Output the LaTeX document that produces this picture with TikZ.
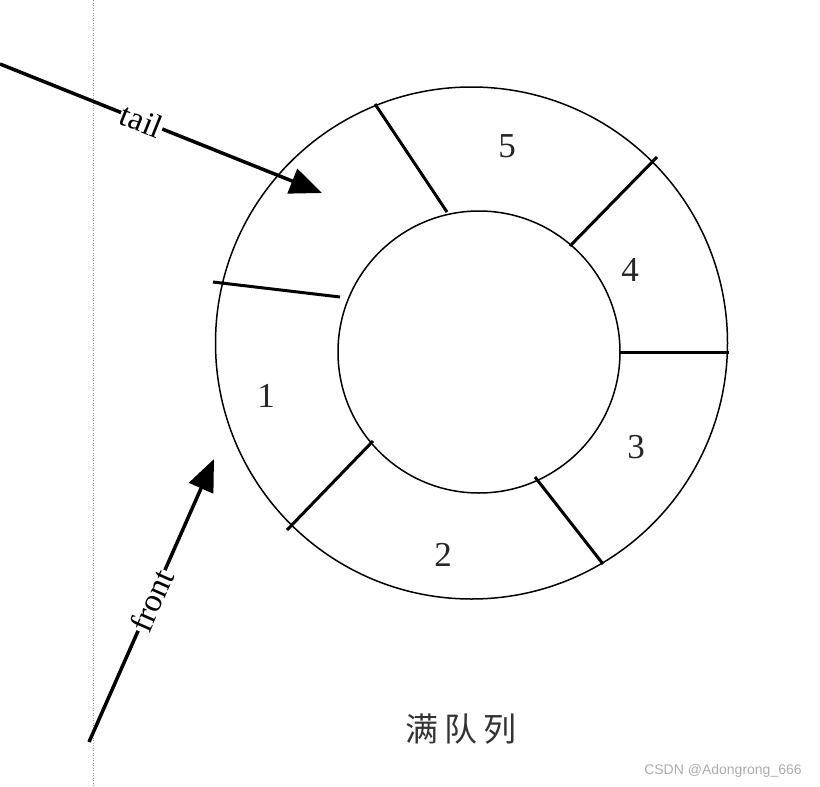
\documentclass[tikz,border=0pt]{standalone}
\usepackage{fontspec}
\setmainfont{Liberation Serif}
\newfontfamily\cjk{Noto Sans CJK SC}
\newfontfamily\wmfont{Liberation Sans}
\usetikzlibrary{arrows.meta}
\begin{document}
\begin{tikzpicture}[x=1pt,y=-1pt,
  ring/.style={draw, circle, line width=1.5pt, inner sep=0pt},
  spoke/.style={line width=3pt},
  pointer/.style={line width=3.5pt, -{Triangle[length=32pt,width=26pt]}},
  num/.style={font=\fontsize{35}{35}\selectfont, text=black!85},
  ptrlabel/.style={font=\fontsize{33}{33}\selectfont, sloped, fill=white, inner sep=1pt},
  guide/.style={draw=gray!80, line width=0.8pt, dash pattern=on 1pt off 1.5pt}]
\useasboundingbox (0,0) rectangle (820,787);
% dotted guide line
\coordinate (dtop) at (93,0);
\coordinate (dbot) at (93,787);
\draw[guide] (dtop) -- (dbot);
% rings
\node[ring, minimum size=512pt] (outer) at (471.5,343) {};
\node[ring, minimum size=282pt] (inner) at (479,352) {};
% spokes
\coordinate (a1) at (375,104); \coordinate (a2) at (447,212);
\coordinate (b1) at (657,157); \coordinate (b2) at (570,246);
\coordinate (c1) at (729,352); \coordinate (c2) at (620,352);
\coordinate (d1) at (603,564); \coordinate (d2) at (535,477);
\coordinate (e1) at (287,530); \coordinate (e2) at (373,441);
\coordinate (f1) at (213,282); \coordinate (f2) at (340,297);
\draw[spoke] (a1) -- (a2);
\draw[spoke] (b1) -- (b2);
\draw[spoke] (c1) -- (c2);
\draw[spoke] (d1) -- (d2);
\draw[spoke] (e1) -- (e2);
\draw[spoke] (f1) -- (f2);
% slot numbers
\node[num] (n5) at (507,146) {5};
\node[num] (n4) at (630,270) {4};
\node[num] (n3) at (636,447) {3};
\node[num] (n2) at (443,555) {2};
\node[num] (n1) at (266,396) {1};
% pointers
\coordinate (tailstart) at (0,64);
\coordinate (tailtip) at (322,193);
\draw[pointer] (tailstart) -- node[pos=0.44, ptrlabel] (taillabel) {tail} (tailtip);
\coordinate (frontstart) at (89,742);
\coordinate (fronttip) at (214,459);
\draw[pointer] (frontstart) -- node[pos=0.50, ptrlabel] (frontlabel) {front} (fronttip);
% caption and watermark
\node[font=\cjk\fontsize{33}{33}\selectfont, text=black!80] (caption) at (461,729) {满\hspace{6pt}队\hspace{6pt}列};
\node[font=\wmfont\fontsize{14}{14}\selectfont, text=gray!65] (wm) at (723,771) {CSDN @Adongrong\_666};
\end{tikzpicture}
\end{document}
